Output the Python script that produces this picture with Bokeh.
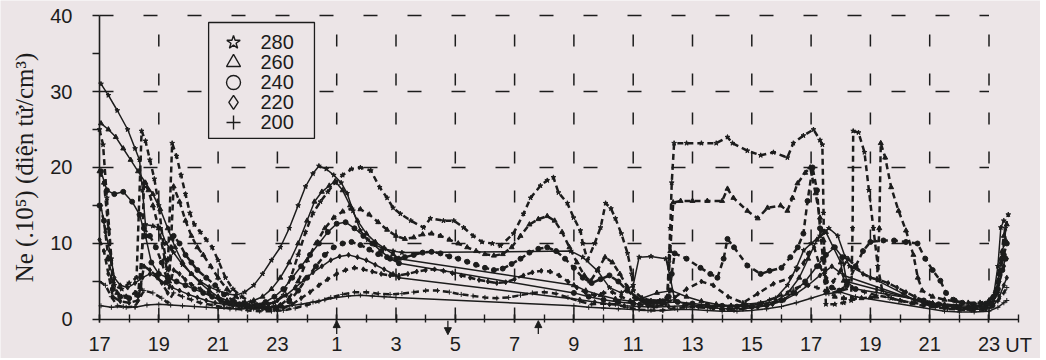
from bokeh.plotting import figure
from bokeh.models import Range1d, FixedTicker, Label, Arrow, NormalHead
from bokeh.core.properties import value
from bokeh.embed import file_html
from bokeh.resources import INLINE

BG = "#ece5e7"
INK = "#1c1c1c"

heights = ["280", "260", "240", "220", "200"]
markers = ["star", "triangle", "circle", "diamond", "cross"]

x_ticks = list(range(17, 48, 2))
x_tick_labels = ["17", "19", "21", "23", "1", "3", "5", "7", "9", "11", "13", "15", "17", "19", "21", "23"]
y_ticks = [0, 10, 20, 30, 40]
y_tick_labels = ["0", "10", "20", "30", "40"]
x_grid = list(range(19, 48, 2))
y_grid = [10, 20, 30, 40]

# hours counted continuously from 17 UT (25 = 1 UT next day); values in 1e5 el/cm3
# dashed series
d280 = [(17.0,25.0),(17.12,23.0),(17.25,16.0),(17.4,8.0),(17.5,4.5),(17.75,4.0),(18.0,4.8),(18.25,5.5),(18.42,24.8),(18.55,23.5),(18.7,21.0),(18.85,18.5),(19.0,15.0),(19.15,10.0),(19.3,6.5),(19.45,23.2),(19.6,21.5),(19.75,19.0),(19.9,16.5),(20.05,14.0),(20.2,12.5),(20.4,11.5),(20.6,10.5),(20.8,9.5),(21.0,7.8),(21.25,5.5),(21.5,4.0),(21.8,3.0),(22.1,2.3),(22.5,2.0),(22.9,2.2),(23.2,3.2),(23.45,5.5),(23.7,8.5),(23.95,11.5),(24.2,14.0),(24.45,15.5),(24.7,16.8),(24.95,18.0),(25.2,19.0),(25.5,19.8),(25.8,20.0),(26.15,19.6),(26.45,17.4),(26.7,16.0),(26.9,14.7),(27.15,13.9),(27.5,13.0),(27.93,12.1),(28.16,13.3),(28.6,13.0),(28.95,13.0),(29.28,12.1),(29.6,11.0),(29.9,10.2),(30.25,10.0),(30.52,9.7),(30.96,11.3),(31.3,13.9),(31.54,16.0),(31.87,17.6),(32.1,18.3),(32.31,18.7),(32.48,16.7),(32.78,15.3),(32.99,13.4),(33.22,11.7),(33.3,10.0),(33.46,7.8),(33.7,10.0),(33.9,12.1),(34.07,15.3),(34.25,14.6),(34.4,13.3),(34.6,11.3),(34.81,8.7),(34.95,6.0),(35.01,3.8),(35.3,2.8),(35.6,2.5),(35.9,2.5),(36.15,3.0),(36.2,7.5),(36.25,12.0),(36.3,18.0),(36.38,23.2),(36.8,23.2),(37.3,23.2),(37.8,23.2),(38.18,24.0),(38.35,23.2),(38.85,22.2),(39.3,21.6),(39.73,22.0),(40.2,21.3),(40.4,23.2),(40.74,24.2),(41.08,25.0),(41.3,23.6),(41.38,23.0),(41.42,14.0),(41.45,6.0),(41.5,2.0),(41.8,2.0),(42.1,2.2),(42.35,2.5),(42.4,12.0),(42.42,24.8),(42.6,24.6),(42.8,22.0),(42.95,17.0),(43.1,12.0),(43.25,7.0),(43.4,3.8),(43.7,2.8),(44.0,2.5),(44.4,2.2),(44.8,2.0),(45.2,1.8),(45.6,1.6),(46.0,1.5),(46.4,1.4),(46.8,1.5),(47.1,2.0),(47.3,3.5),(47.45,8.0),(47.55,12.0),(47.65,13.8)]
d260 = [(17.0,19.5),(17.15,18.0),(17.3,12.0),(17.45,5.0),(17.6,3.5),(17.9,3.0),(18.2,3.5),(18.4,4.0),(18.5,18.0),(18.65,17.0),(18.8,15.0),(19.0,12.0),(19.2,8.0),(19.35,5.0),(19.5,17.5),(19.7,15.5),(19.9,13.0),(20.1,11.0),(20.3,9.5),(20.5,8.5),(20.75,7.0),(21.0,5.5),(21.3,4.0),(21.6,3.0),(21.9,2.2),(22.3,1.8),(22.7,1.6),(23.1,1.9),(23.4,2.8),(23.7,5.0),(24.0,7.8),(24.3,10.0),(24.6,12.0),(24.9,13.4),(25.2,14.2),(25.5,14.6),(25.8,14.5),(26.1,13.8),(26.4,12.8),(26.7,11.8),(27.0,11.0),(27.3,10.6),(27.6,10.8),(27.9,11.2),(28.2,11.3),(28.5,11.0),(28.8,10.5),(29.1,10.0),(29.4,9.5),(29.7,9.0),(30.0,8.6),(30.3,8.4),(30.6,8.6),(30.9,9.5),(31.2,11.0),(31.5,12.5),(31.8,13.2),(32.1,13.6),(32.35,13.0),(32.6,11.5),(32.85,9.5),(33.1,7.5),(33.35,5.8),(33.55,5.0),(33.8,6.5),(34.05,8.2),(34.3,7.5),(34.55,6.0),(34.8,4.3),(35.05,3.0),(35.3,2.4),(35.6,2.2),(35.9,2.3),(36.15,2.6),(36.25,9.0),(36.35,15.4),(36.6,15.6),(37.0,15.6),(37.5,15.6),(38.0,15.6),(38.18,17.2),(38.38,16.0),(38.85,14.3),(39.2,13.3),(39.53,14.7),(39.97,15.0),(40.2,14.3),(40.37,16.0),(40.54,17.9),(40.8,19.3),(40.97,20.0),(41.15,16.6),(41.3,13.4),(41.42,10.4),(41.55,3.8),(41.8,3.0),(42.1,2.8),(42.4,2.7),(42.7,2.8),(43.0,2.9),(43.2,3.0),(43.3,12.0),(43.35,23.2),(43.5,21.3),(43.7,17.4),(43.95,14.3),(44.2,11.7),(44.45,8.5),(44.6,5.5),(44.75,3.8),(45.1,3.0),(45.5,2.6),(45.9,2.4),(46.3,2.2),(46.7,2.2),(47.0,2.5),(47.25,4.0),(47.4,8.0),(47.5,11.0),(47.6,12.5)]
d240 = [(17.0,15.0),(17.15,13.0),(17.3,8.0),(17.45,4.0),(17.7,3.0),(18.0,2.8),(18.3,3.2),(18.5,12.0),(18.7,11.0),(18.9,9.5),(19.1,7.5),(19.3,5.0),(19.5,11.0),(19.7,10.0),(19.9,8.5),(20.1,7.5),(20.3,6.5),(20.6,5.5),(20.9,4.5),(21.2,3.3),(21.5,2.5),(21.9,2.0),(22.3,1.7),(22.7,1.5),(23.1,1.8),(23.4,2.4),(23.7,3.8),(24.0,5.5),(24.3,7.0),(24.6,8.5),(24.9,9.5),(25.2,10.0),(25.5,10.2),(25.8,9.8),(26.1,9.2),(26.4,8.6),(26.7,8.2),(27.0,8.0),(27.3,8.2),(27.6,8.5),(27.9,8.8),(28.2,8.9),(28.5,8.7),(28.8,8.3),(29.1,8.0),(29.4,7.6),(29.7,7.2),(30.0,6.8),(30.3,6.5),(30.6,6.7),(30.9,7.3),(31.2,8.0),(31.5,8.8),(31.8,9.3),(32.1,9.5),(32.4,9.0),(32.7,8.0),(33.0,6.8),(33.3,5.5),(33.6,4.8),(33.9,5.3),(34.2,5.8),(34.5,5.0),(34.8,3.8),(35.1,2.8),(35.4,2.4),(35.7,2.3),(36.0,2.4),(36.2,3.0),(36.3,6.0),(36.4,8.7),(36.8,8.0),(37.27,6.8),(37.6,6.0),(37.84,5.5),(38.05,8.0),(38.18,10.6),(38.4,9.5),(38.85,7.1),(39.3,6.0),(39.6,6.4),(40.0,6.8),(40.3,8.2),(40.55,9.5),(40.74,11.3),(40.88,15.6),(41.05,20.0),(41.2,17.0),(41.3,12.0),(41.4,8.0),(41.5,5.0),(41.7,4.2),(41.95,3.8),(42.2,4.5),(42.5,7.0),(42.75,9.0),(43.0,10.2),(43.44,10.4),(43.8,10.4),(44.2,10.2),(44.59,10.0),(44.85,8.0),(45.1,6.5),(45.36,5.1),(45.55,3.5),(45.8,2.6),(46.1,2.2),(46.5,2.0),(46.9,2.1),(47.15,3.0),(47.35,6.0),(47.5,8.5),(47.6,10.0)]
d220 = [(17.0,10.5),(17.15,9.0),(17.3,6.0),(17.45,3.0),(17.7,2.4),(18.0,2.2),(18.3,2.5),(18.5,7.0),(18.7,6.5),(18.9,5.8),(19.1,4.8),(19.3,3.5),(19.5,6.5),(19.7,6.0),(19.9,5.2),(20.1,4.6),(20.4,4.0),(20.7,3.4),(21.0,2.8),(21.3,2.2),(21.7,1.8),(22.1,1.5),(22.5,1.4),(22.9,1.3),(23.2,1.5),(23.5,2.0),(23.8,2.8),(24.1,3.6),(24.4,4.5),(24.7,5.3),(25.0,6.0),(25.3,6.5),(25.6,6.8),(25.9,6.6),(26.2,6.3),(26.5,6.0),(26.8,5.8),(27.1,5.8),(27.4,6.0),(27.7,6.3),(28.0,6.5),(28.3,6.6),(28.6,6.4),(28.9,6.1),(29.2,5.8),(29.5,5.5),(29.8,5.2),(30.1,5.0),(30.4,4.8),(30.7,4.9),(31.0,5.3),(31.3,5.8),(31.6,6.2),(31.9,6.4),(32.2,6.3),(32.5,5.8),(32.8,5.0),(33.1,4.2),(33.4,3.5),(33.7,3.2),(34.0,3.5),(34.3,3.6),(34.6,3.0),(34.9,2.4),(35.2,2.0),(35.5,1.8),(35.8,1.8),(36.1,2.0),(36.4,2.9),(36.8,4.0),(37.3,5.0),(37.7,4.5),(38.2,3.0),(38.7,2.2),(39.2,3.4),(39.73,4.7),(40.3,5.5),(40.74,7.4),(40.9,8.7),(41.1,9.5),(41.3,7.0),(41.5,5.5),(41.75,5.0),(42.0,6.5),(42.25,8.0),(42.5,7.0),(42.75,6.0),(43.0,5.5),(43.3,5.2),(43.6,4.8),(43.9,4.2),(44.2,3.6),(44.5,3.0),(44.8,2.5),(45.1,2.2),(45.5,2.0),(45.9,1.8),(46.3,1.7),(46.7,1.8),(47.0,2.0),(47.2,3.0),(47.35,5.0),(47.5,7.0),(47.6,8.0)]
d200 = [(17.0,5.0),(17.2,4.5),(17.4,3.0),(17.6,1.8),(17.9,1.6),(18.2,1.7),(18.5,3.8),(18.8,3.5),(19.1,2.8),(19.3,2.2),(19.5,3.5),(19.8,3.0),(20.1,2.6),(20.4,2.2),(20.8,1.9),(21.2,1.6),(21.6,1.4),(22.0,1.2),(22.4,1.1),(22.8,1.1),(23.2,1.2),(23.6,1.5),(24.0,1.9),(24.4,2.4),(24.8,2.9),(25.2,3.3),(25.6,3.6),(26.0,3.6),(26.4,3.4),(26.8,3.3),(27.2,3.4),(27.6,3.6),(28.0,3.8),(28.4,3.8),(28.8,3.6),(29.2,3.3),(29.6,3.1),(30.0,2.9),(30.4,2.8),(30.8,2.9),(31.2,3.2),(31.6,3.5),(32.0,3.6),(32.4,3.4),(32.8,2.9),(33.2,2.4),(33.6,2.0),(34.0,2.1),(34.4,2.0),(34.8,1.6),(35.2,1.3),(35.6,1.2),(36.0,1.2),(36.4,1.5),(36.8,1.6),(37.2,1.6),(37.6,1.5),(38.0,1.3),(38.4,1.2),(38.8,1.5),(39.2,2.0),(39.6,2.6),(40.0,3.2),(40.4,4.0),(40.8,4.6),(41.2,4.2),(41.6,3.4),(42.0,3.8),(42.4,4.2),(42.8,3.6),(43.2,3.2),(43.6,2.9),(44.0,2.5),(44.4,2.1),(44.8,1.8),(45.2,1.6),(45.6,1.4),(46.0,1.3),(46.4,1.2),(46.8,1.3),(47.1,1.6),(47.3,2.4),(47.5,3.5),(47.6,4.2)]

# solid series
s280 = [(17.05,31.0),(17.3,29.5),(17.6,27.5),(17.95,25.0),(18.2,22.5),(18.35,21.0),(18.45,17.0),(18.55,12.5),(18.8,12.3),(19.05,12.0),(19.25,10.0),(19.5,8.8),(19.8,7.2),(20.1,6.0),(20.4,5.0),(20.7,4.3),(21.0,3.8),(21.3,3.4),(21.6,3.2),(21.9,3.6),(22.2,4.5),(22.5,6.0),(22.8,7.8),(23.1,9.5),(23.4,12.0),(23.7,15.0),(23.95,17.5),(24.2,19.2),(24.4,20.2),(24.65,19.8),(24.9,19.0),(25.15,18.0),(25.35,16.6),(25.55,14.3),(25.8,11.7),(26.05,10.5),(26.3,9.8),(26.6,9.3),(26.9,9.0),(27.2,8.8),(32.9,9.0),(33.3,8.2),(33.8,6.4),(34.2,4.2),(34.6,3.5),(35.0,4.5),(35.2,8.2),(35.6,8.3),(36.1,8.0),(36.25,5.5),(36.4,2.5),(36.8,2.0),(37.3,1.8),(37.8,1.7),(38.3,1.8),(38.8,2.0),(39.3,2.2),(39.8,2.8),(40.2,4.5),(40.5,6.8),(40.75,9.1),(41.0,10.0),(41.3,11.0),(41.6,12.0),(41.9,11.0),(42.15,8.2),(42.3,7.0),(44.1,3.4),(44.5,2.5),(45.0,2.1),(45.5,1.9),(46.0,1.8),(46.5,1.7),(46.9,1.8),(47.15,3.0),(47.3,7.0),(47.4,12.1),(47.5,13.0)]
s260 = [(17.05,25.8),(17.3,25.0),(17.55,24.0),(17.8,22.5),(18.05,21.0),(18.3,19.5),(18.55,18.0),(18.8,16.5),(19.05,14.5),(19.3,12.0),(19.55,9.5),(19.8,7.5),(20.1,6.0),(20.4,4.8),(20.7,3.8),(21.0,3.0),(21.3,2.5),(21.6,2.2),(21.9,2.2),(22.2,2.5),(22.5,3.0),(22.8,4.0),(23.1,5.5),(23.4,7.5),(23.7,10.0),(24.0,13.0),(24.25,15.5),(24.5,16.8),(24.75,17.6),(24.95,18.2),(25.2,17.0),(25.45,15.0),(25.7,13.0),(26.0,11.3),(26.3,10.2),(26.6,9.4),(26.9,8.6),(27.1,8.0),(33.0,4.5),(33.4,3.8),(33.9,3.2),(34.4,2.7),(34.9,2.4),(35.3,2.8),(35.8,3.5),(36.3,3.8),(36.8,3.0),(37.3,2.4),(37.8,2.0),(38.3,1.8),(38.8,1.8),(39.3,2.0),(39.8,2.4),(40.2,3.4),(40.6,5.5),(40.9,8.0),(41.2,10.5),(41.5,11.5),(41.75,9.5),(42.0,7.5),(42.1,5.1),(45.0,2.1),(45.5,1.8),(46.0,1.6),(46.5,1.6),(46.9,1.7),(47.15,2.5),(47.3,5.0),(47.45,9.0),(47.55,10.5)]
s240 = [(17.05,19.5),(17.25,17.0),(17.5,16.5),(17.8,16.8),(18.1,15.5),(18.35,13.8),(18.55,11.0),(18.75,7.5),(19.0,6.0),(19.3,5.5),(19.6,5.0),(19.9,4.5),(20.2,4.0),(20.5,3.5),(20.8,3.0),(21.1,2.5),(21.4,2.1),(21.7,1.9),(22.0,1.8),(22.3,1.9),(22.6,2.3),(22.9,3.0),(23.2,4.0),(23.5,5.5),(23.8,7.0),(24.1,8.5),(24.4,10.0),(24.7,11.5),(25.0,12.6),(25.3,12.8),(25.6,12.0),(25.9,11.0),(26.2,10.0),(26.5,9.0),(26.8,8.0),(27.1,7.4),(33.0,3.5),(33.5,3.0),(34.0,2.6),(34.5,2.3),(35.0,2.1),(35.5,2.0),(36.0,2.2),(36.5,2.3),(37.0,2.1),(37.5,1.9),(38.0,1.8),(38.5,1.7),(39.0,1.7),(39.5,1.9),(40.0,2.5),(40.4,3.5),(40.8,5.0),(41.2,7.0),(41.5,8.5),(41.8,9.5),(42.05,8.2),(42.2,5.0),(42.5,4.0),(44.8,2.5),(45.3,2.0),(45.8,1.7),(46.3,1.5),(46.8,1.5),(47.1,2.0),(47.3,4.0),(47.45,6.5),(47.55,8.0)]
s220 = [(17.05,15.0),(17.2,11.5),(17.35,9.0),(17.5,5.5),(17.7,4.5),(17.95,4.2),(18.2,4.8),(18.45,5.5),(18.7,6.0),(18.95,5.5),(19.2,4.8),(19.45,4.2),(19.7,3.8),(20.0,3.3),(20.3,2.9),(20.6,2.5),(20.9,2.2),(21.2,2.0),(21.5,1.8),(21.8,1.7),(22.1,1.6),(22.4,1.7),(22.7,2.0),(23.0,2.5),(23.3,3.2),(23.6,4.2),(23.9,5.2),(24.2,6.2),(24.5,7.0),(24.8,7.8),(25.1,8.3),(25.4,8.5),(25.7,8.2),(26.0,7.8),(26.3,7.2),(26.6,6.6),(26.9,6.0),(27.1,5.5),(33.2,2.6),(33.7,2.3),(34.2,2.0),(34.7,1.8),(35.2,1.7),(35.7,1.6),(36.2,1.7),(36.7,1.8),(37.2,1.7),(37.7,1.5),(38.2,1.4),(38.7,1.4),(39.2,1.6),(39.7,2.0),(40.1,2.6),(40.5,3.4),(40.9,4.5),(41.3,5.8),(41.7,7.0),(42.1,5.8),(45.0,1.9),(45.5,1.5),(46.0,1.3),(46.5,1.3),(46.9,1.4),(47.15,1.8),(47.35,3.0),(47.5,4.5),(47.6,5.5)]
s200 = [(17.05,1.8),(17.4,1.6),(17.8,1.7),(18.2,1.6),(18.6,1.9),(19.0,2.0),(19.4,1.9),(19.8,1.8),(20.2,1.7),(20.6,1.6),(21.0,1.5),(21.4,1.4),(21.8,1.4),(22.2,1.4),(22.6,1.5),(23.0,1.6),(23.4,1.8),(23.8,2.0),(24.2,2.3),(24.6,2.6),(25.0,2.9),(25.4,3.1),(25.8,3.2),(26.2,3.1),(26.6,3.0),(27.0,2.9),(33.0,1.8),(33.5,1.6),(34.0,1.5),(34.5,1.4),(35.0,1.3),(35.5,1.2),(36.0,1.2),(36.5,1.3),(37.0,1.3),(37.5,1.2),(38.0,1.1),(38.5,1.1),(39.0,1.2),(39.5,1.4),(40.0,1.7),(40.5,2.2),(41.0,2.8),(41.5,3.4),(42.0,3.6),(42.5,3.0),(45.5,1.1),(46.0,1.0),(46.5,1.0),(47.0,1.1),(47.3,1.6),(47.5,2.2),(47.6,2.5)]

dashed_series = [d280, d260, d240, d220, d200]
solid_series = [s280, s260, s240, s220, s200]

# event arrows on the time axis (UT hours)
arrow_up_hours = [25.0, 31.8]
arrow_down_hours = [28.75]

# legend box layout (in axis units)
LEG_LEFT, LEG_RIGHT, LEG_TOP, LEG_BOTTOM = 20.68, 24.25, 39.08, 23.82
LEG_MARK_X, LEG_TEXT_X, LEG_ROW0, LEG_DY = 21.52, 22.43, 36.45, 2.63

X0, X1 = 13.661, 48.737     # frame spans the whole page width
Y0, Y1 = -5.132, 41.974      # frame spans the whole page height
GRID_X_END = 47
GRID_Y_END = 40

p = figure(frame_width=1040, frame_height=358,
           x_range=Range1d(X0, X1), y_range=Range1d(Y0, Y1),
           output_backend="svg", toolbar_location=None,
           min_border_left=0, min_border_right=0, min_border_top=0, min_border_bottom=0,
           background_fill_color=BG, border_fill_color=BG, outline_line_color=None)

p.xgrid.visible = False
p.ygrid.visible = False
p.segment(x0=[17] * len(y_grid), y0=y_grid, x1=[GRID_X_END] * len(y_grid), y1=y_grid,
          line_color=INK, line_width=1.5, line_dash="14 30")
p.segment(x0=x_grid, y0=[0] * len(x_grid), x1=x_grid, y1=[GRID_Y_END] * len(x_grid),
          line_color=INK, line_width=1.5, line_dash="12 27")

# axes pinned at y=0 and x=17 UT
p.xaxis.fixed_location = 0
p.yaxis.fixed_location = 17
p.xaxis.ticker = FixedTicker(ticks=x_ticks, minor_ticks=list(range(17, 49)))
p.xaxis.major_label_overrides = dict(zip(x_ticks, x_tick_labels))
p.xaxis.bounds = (17, 48)
p.yaxis.ticker = FixedTicker(ticks=y_ticks, minor_ticks=[5, 15, 25, 35])
p.yaxis.major_label_overrides = dict(zip(y_ticks, y_tick_labels))
p.yaxis.bounds = (0, 40)
for ax in (p.xaxis, p.yaxis):
    ax.axis_line_color = INK
    ax.axis_line_width = 1.6
    ax.major_tick_line_color = INK
    ax.minor_tick_line_color = INK
    ax.major_tick_line_width = 1.4
    ax.minor_tick_line_width = 1.4
    ax.major_label_text_font = "Liberation Sans"
    ax.major_label_text_font_size = "20px"
    ax.major_label_text_color = INK
p.xaxis.major_tick_in = 5
p.xaxis.major_tick_out = 3
p.xaxis.minor_tick_in = 5
p.xaxis.minor_tick_out = 3
p.xaxis.major_label_standoff = 15
p.yaxis.major_tick_in = 0
p.yaxis.major_tick_out = 7
p.yaxis.minor_tick_in = 0
p.yaxis.minor_tick_out = 7
p.yaxis.major_label_standoff = 20
p.yaxis.axis_label = "Ne (.10⁵) (điện tử/cm³)"
p.yaxis.axis_label_text_font = "Liberation Serif"
p.yaxis.axis_label_text_font_size = "25px"
p.yaxis.axis_label_text_font_style = "normal"
p.yaxis.axis_label_text_color = INK
p.yaxis.axis_label_standoff = 9

# legend box
p.quad(left=[LEG_LEFT], right=[LEG_RIGHT], top=[LEG_TOP], bottom=[LEG_BOTTOM],
       fill_color=BG, line_color=INK, line_width=1.3)
leg_rows = [LEG_ROW0 - i * LEG_DY for i in range(len(heights))]
for h, m, yy in zip(heights, markers, leg_rows):
    p.scatter([LEG_MARK_X], [yy], marker=m, size=14, fill_color=None, line_color=INK, line_width=1.4)
p.text(x=[LEG_TEXT_X] * len(heights), y=leg_rows, text=heights,
       text_font=value("Liberation Sans"), text_font_size="20px", text_color=INK,
       text_align="left", text_baseline="middle")

# data
for series, m in zip(dashed_series, markers):
    xs = [a for a, b in series]
    ys = [b for a, b in series]
    p.line(xs, ys, line_color=INK, line_width=2.5, line_dash="6 4")
    p.scatter(xs, ys, marker=m, size=5, fill_color=INK, line_color=INK)
for series, m in zip(solid_series, markers):
    xs = [a for a, b in series]
    ys = [b for a, b in series]
    p.line(xs, ys, line_color=INK, line_width=1.5)
    p.scatter(xs, ys, marker=m, size=5, fill_color=INK, line_color=INK)

# arrows below the axis
for hx in arrow_up_hours:
    p.add_layout(Arrow(end=NormalHead(size=7, fill_color=INK, line_color=INK),
                       x_start=hx, y_start=-1.9, x_end=hx, y_end=-0.15,
                       line_color=INK, line_width=1.3))
for hx in arrow_down_hours:
    p.add_layout(Arrow(end=NormalHead(size=7, fill_color=INK, line_color=INK),
                       x_start=hx, y_start=-0.15, x_end=hx, y_end=-2.0,
                       line_color=INK, line_width=1.3))

p.add_layout(Label(x=47.55, y=-3.3, text="UT", text_font="Liberation Sans",
                   text_font_size="20px", text_color=INK,
                   text_align="left", text_baseline="middle"))

open("out.html", "w").write(file_html(p, INLINE))
